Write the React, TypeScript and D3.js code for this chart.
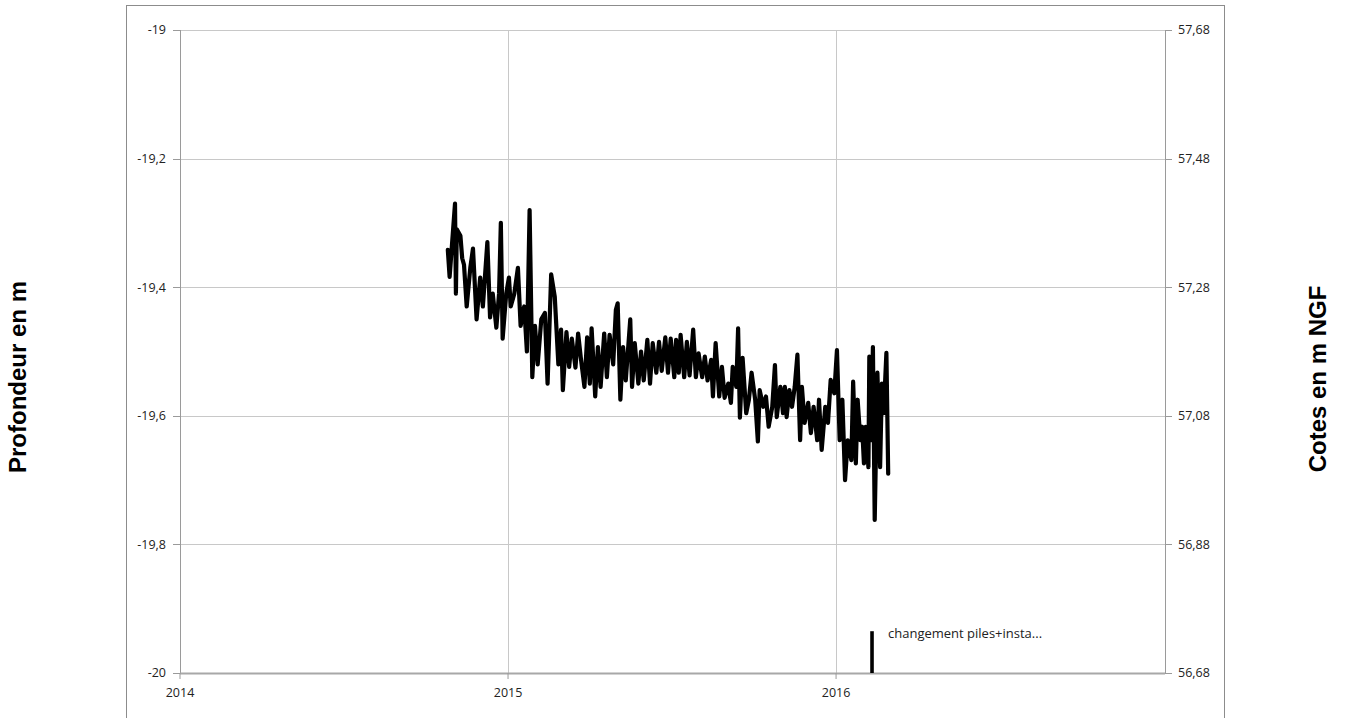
import React from "react";
import * as d3 from "d3";

// days since 2014-01-01 and depth values (m)
const dayOffsets = [
  298, 300, 306, 307, 308, 312, 314, 316, 319, 323, 326, 330, 334, 337, 342, 345, 348, 352, 355, 357,
  359, 363, 366, 368, 372, 376, 379, 383, 386, 389, 392, 395, 398, 402, 406, 409, 413, 417, 421, 424,
  426, 430, 433, 436, 440, 443, 446, 450, 453, 456, 458, 462, 465, 468, 472, 475, 478, 482, 485, 487,
  490, 493, 496, 501, 503, 506, 510, 513, 516, 520, 523, 526, 530, 533, 536, 540, 543, 546, 550, 552,
  555, 557, 561, 564, 567, 571, 574, 577, 581, 584, 587, 591, 593, 596, 600, 603, 606, 610, 613, 615,
  619, 621, 623, 626, 630, 633, 636, 640, 643, 645, 649, 652, 655, 659, 662, 664, 668, 671, 673, 675,
  678, 681, 684, 687, 690, 692, 695, 699, 702, 705, 709, 711, 714, 718, 721, 724, 728, 731, 734, 737,
  740, 743, 747, 749, 752, 754, 757, 759, 761, 763, 766, 767, 769, 771, 773, 776, 779, 781, 783, 786,
  788,
];
const depthValues = [
  -19.342, -19.384, -19.27, -19.41, -19.31, -19.32, -19.355, -19.365, -19.43, -19.37, -19.34, -19.45, -19.385, -19.43, -19.33, -19.447, -19.41, -19.463, -19.41, -19.3,
  -19.48, -19.41, -19.385, -19.43, -19.41, -19.37, -19.46, -19.43, -19.5, -19.28, -19.54, -19.46, -19.52, -19.45, -19.44, -19.55, -19.38, -19.415, -19.52, -19.466,
  -19.56, -19.47, -19.524, -19.48, -19.525, -19.472, -19.51, -19.555, -19.478, -19.55, -19.464, -19.57, -19.493, -19.555, -19.472, -19.54, -19.474, -19.52, -19.435, -19.425,
  -19.575, -19.493, -19.545, -19.45, -19.555, -19.487, -19.55, -19.5, -19.545, -19.482, -19.55, -19.487, -19.533, -19.485, -19.53, -19.478, -19.533, -19.48, -19.54, -19.482,
  -19.533, -19.474, -19.54, -19.485, -19.537, -19.466, -19.54, -19.503, -19.54, -19.508, -19.545, -19.513, -19.57, -19.487, -19.57, -19.524, -19.572, -19.55, -19.58, -19.524,
  -19.555, -19.464, -19.603, -19.51, -19.596, -19.575, -19.533, -19.575, -19.64, -19.56, -19.586, -19.57, -19.617, -19.586, -19.521, -19.602, -19.555, -19.596, -19.555, -19.602,
  -19.56, -19.586, -19.555, -19.505, -19.638, -19.555, -19.611, -19.58, -19.627, -19.586, -19.638, -19.575, -19.653, -19.586, -19.611, -19.544, -19.565, -19.498, -19.638, -19.575,
  -19.7, -19.638, -19.669, -19.547, -19.674, -19.575, -19.638, -19.617, -19.674, -19.617, -19.68, -19.508, -19.638, -19.493, -19.762, -19.533, -19.68, -19.55, -19.596, -19.502,
  -19.69,
];

// event marker: battery change
const eventDay = 770;
const eventValues = [-20, -19.935];
const eventLabel = "changement piles+insta...";

const leftTicks = [-20, -19.8, -19.6, -19.4, -19.2, -19];
const rightTicks = [56.68, 56.88, 57.08, 57.28, 57.48, 57.68];
const yearTicks = ["2014", "2015", "2016"];

const leftTitle = "Profondeur en m";
const rightTitle = "Cotes en m NGF";

const base = new Date(2014, 0, 1);
const dayToDate = (d: number) => d3.timeDay.offset(base, d);

export default function App() {
  const W = 1345;
  const H = 718;
  const L = 180, R = 1165, T = 30, B = 673;

  const x = d3.scaleTime().domain([new Date(2014, 0, 1), new Date(2017, 0, 1)]).range([L, R]);
  const y = d3.scaleLinear().domain([-20, -19]).range([B, T]);
  const y2 = d3.scaleLinear().domain([56.68, 57.68]).range([B, T]);

  const fr = d3.formatLocale({ decimal: ",", thousands: " ", grouping: [3], currency: ["", "€"], minus: "-" });
  const fmtL = fr.format("~g");
  const fmtR = fr.format(".2f");

  const pts = dayOffsets.map((d, i) => ({ date: dayToDate(d), v: depthValues[i] }));
  const line = d3.line<{ date: Date; v: number }>().x((p) => x(p.date)).y((p) => y(p.v));

  const ex = x(dayToDate(eventDay));
  const tickFont = "'Open Sans', 'DejaVu Sans', sans-serif";
  const titleFont = "'Liberation Sans', Arial, sans-serif";

  return (
    <svg width={W} height={H} style={{ position: "absolute", left: 0, top: 0, background: "#fff" }}>
      <rect x={126.5} y={5.5} width={1098} height={740} fill="#fff" stroke="#8c8c8c" strokeWidth={1} />
      {/* horizontal gridlines */}
      {leftTicks.map((t) => (
        <line key={"h" + t} x1={L} x2={R} y1={Math.round(y(t)) + 0.5} y2={Math.round(y(t)) + 0.5} stroke="#c8c8c8" strokeWidth={1} />
      ))}
      {/* vertical gridlines */}
      {yearTicks.map((yr) => {
        const xx = Math.round(x(new Date(+yr, 0, 1))) + 0.5;
        return <line key={"v" + yr} x1={xx} x2={xx} y1={T} y2={B} stroke="#c8c8c8" strokeWidth={1} />;
      })}
      {/* axes */}
      <line x1={L + 0.5} x2={L + 0.5} y1={T} y2={B} stroke="#9a9a9a" />
      <line x1={R + 0.5} x2={R + 0.5} y1={T} y2={B} stroke="#9a9a9a" />
      <line x1={L} x2={R} y1={B + 0.5} y2={B + 0.5} stroke="#a8a8a8" strokeWidth={2} />
      {leftTicks.map((t) => (
        <g key={"lt" + t}>
          <line x1={L - 7} x2={L} y1={Math.round(y(t)) + 0.5} y2={Math.round(y(t)) + 0.5} stroke="#9a9a9a" />
          <text x={L - 14} y={y(t)} dy="0.35em" textAnchor="end" fontFamily={tickFont} fontSize={12.5} fill="#222">
            {fmtL(t)}
          </text>
        </g>
      ))}
      {rightTicks.map((t) => (
        <g key={"rt" + t}>
          <line x1={R} x2={R + 7} y1={Math.round(y2(t)) + 0.5} y2={Math.round(y2(t)) + 0.5} stroke="#9a9a9a" />
          <text x={R + 13} y={y2(t)} dy="0.35em" textAnchor="start" fontFamily={tickFont} fontSize={12.5} fill="#222">
            {fmtR(t)}
          </text>
        </g>
      ))}
      {yearTicks.map((yr) => {
        const xx = x(new Date(+yr, 0, 1));
        return (
          <g key={"xt" + yr}>
            <line x1={xx} x2={xx} y1={B} y2={B + 6} stroke="#9a9a9a" />
            <text x={xx} y={693} dy="0.35em" textAnchor="middle" fontFamily={tickFont} fontSize={12.5} fill="#222">
              {yr}
            </text>
          </g>
        );
      })}
      {/* data */}
      <path d={line(pts) || ""} fill="none" stroke="#000" strokeWidth={4.2} strokeLinejoin="round" strokeLinecap="round" />
      <line x1={ex} x2={ex} y1={y(eventValues[0])} y2={y(eventValues[1])} stroke="#000" strokeWidth={3.6} />
      <text x={ex + 16} y={y(eventValues[1]) + 2} dy="0.35em" fontFamily={tickFont} fontSize={13} fill="#222">
        {eventLabel}
      </text>
      {/* titles */}
      <text transform={`translate(26,377) rotate(-90)`} textAnchor="middle" fontFamily={titleFont} fontWeight="bold" fontSize={24} fill="#000">
        {leftTitle}
      </text>
      <text transform={`translate(1326,379) rotate(-90)`} textAnchor="middle" fontFamily={titleFont} fontWeight="bold" fontSize={24} fill="#000">
        {rightTitle}
      </text>
    </svg>
  );
}
